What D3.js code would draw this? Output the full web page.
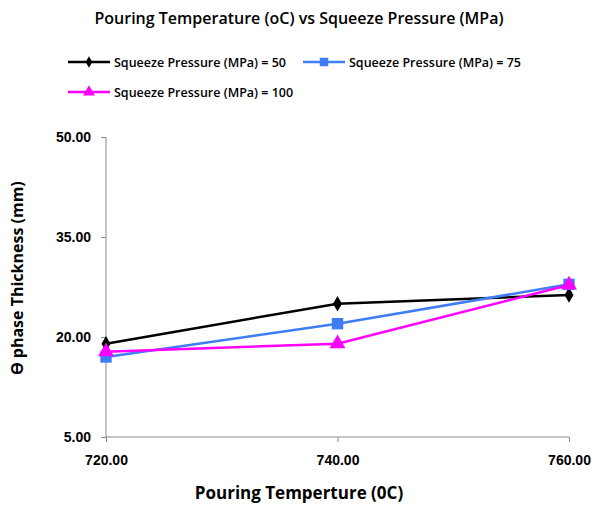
<!DOCTYPE html>
<html>
<head>
<meta charset="utf-8">
<script src="https://cdn.jsdelivr.net/npm/d3@7"></script>
<style>
  body { margin: 0; background: #fff; }
  svg { font-family: "Open Sans", "Liberation Sans", sans-serif; }
</style>
</head>
<body>
<div id="chart"></div>
<script>
// data
const temps = [720, 740, 760];
const p50 = [19.0, 25.0, 26.3];
const p75 = [17.0, 22.0, 27.9];
const p100 = [17.8, 19.0, 27.8];
const yTicks = [5, 20, 35, 50];
const seriesNames = ["Squeeze Pressure (MPa) = 50", "Squeeze Pressure (MPa) = 75", "Squeeze Pressure (MPa) = 100"];

const W = 596, H = 506;
const margin = { top: 137, right: 27, bottom: 69, left: 106 };
const width = W - margin.left - margin.right;
const height = H - margin.top - margin.bottom;

const svg = d3.select("#chart").append("svg")
  .attr("width", W).attr("height", H);

const g = svg.append("g")
  .attr("transform", `translate(${margin.left},${margin.top})`);

const x = d3.scaleLinear().domain([720, 760]).range([0, width]);
const y = d3.scaleLinear().domain([5, 50]).range([height, 0]);

// axes
const xAxis = g.append("g")
  .attr("transform", `translate(0,${height})`)
  .call(d3.axisBottom(x).tickValues(temps).tickFormat(d3.format(".2f")).tickSize(5).tickPadding(13));
const yAxis = g.append("g")
  .call(d3.axisLeft(y).tickValues(yTicks).tickFormat(d3.format(".2f")).tickSize(5).tickPadding(10));

[xAxis, yAxis].forEach(a => {
  a.selectAll("path, line").attr("stroke", "#8c8c8c");
  a.select(".domain").attr("d", a === xAxis ? `M0,0H${width}` : `M0,${height}V0`);
  a.selectAll("text")
    .attr("fill", "#000")
    .style("font-size", "14px")
    .style("font-weight", "bold");
});

// series
const series = [
  { name: seriesNames[0], vals: p50, color: "#000000", shape: d3.symbolDiamond, size: 70 },
  { name: seriesNames[1], vals: p75, color: "#3f7df5", shape: d3.symbolSquare, size: 130 },
  { name: seriesNames[2], vals: p100, color: "#ff00ff", shape: d3.symbolTriangle, size: 110 }
];

const line = d3.line()
  .x((d, i) => x(temps[i]))
  .y(d => y(d));

series.forEach(s => {
  g.append("path")
    .datum(s.vals)
    .attr("fill", "none")
    .attr("stroke", s.color)
    .attr("stroke-width", 2.5)
    .attr("d", line);
  g.selectAll(null)
    .data(s.vals)
    .enter().append("path")
    .attr("transform", (d, i) => `translate(${x(temps[i])},${y(d)})`)
    .attr("d", d3.symbol().type(s.shape).size(s.size))
    .attr("fill", s.color);
});

// title
svg.append("text")
  .attr("x", 299).attr("y", 24)
  .attr("text-anchor", "middle")
  .style("font-size", "16px")
  .style("font-weight", "600")
  .text("Pouring Temperature (oC) vs Squeeze Pressure (MPa)");

// legend
const legendPos = [[68, 62], [303, 62], [68, 92]];
series.forEach((s, i) => {
  const [lx, ly] = legendPos[i];
  const lg = svg.append("g").attr("transform", `translate(${lx},${ly})`);
  lg.append("line")
    .attr("x1", 0).attr("x2", 42)
    .attr("stroke", s.color).attr("stroke-width", 2.5);
  lg.append("path")
    .attr("transform", "translate(21,0)")
    .attr("d", d3.symbol().type(s.shape).size(s.size * 0.55))
    .attr("fill", s.color);
  lg.append("text")
    .attr("x", 46).attr("y", 4.5)
    .style("font-size", "12.5px")
    .style("font-weight", "600")
    .text(s.name);
});

// axis titles
svg.append("text")
  .attr("x", 299).attr("y", 499)
  .attr("text-anchor", "middle")
  .style("font-size", "17px")
  .style("font-weight", "bold")
  .text("Pouring Temperture (0C)");

svg.append("text")
  .attr("transform", "translate(23,278) rotate(-90)")
  .attr("text-anchor", "middle")
  .style("font-size", "16px")
  .style("font-weight", "bold")
  .text("ϴ phase Thickness (mm)");
</script>
</body>
</html>
